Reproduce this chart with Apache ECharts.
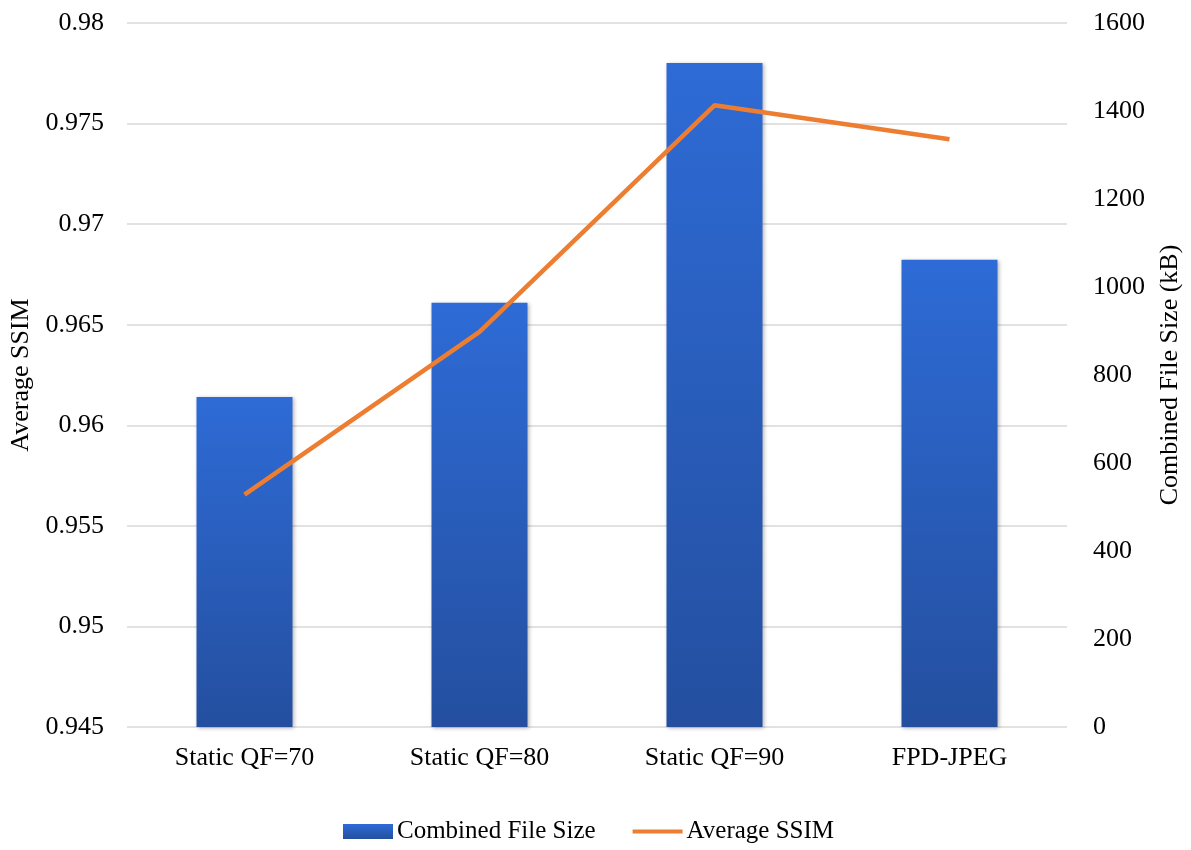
<!DOCTYPE html>
<html>
<head>
<meta charset="utf-8">
<script src="https://cdn.jsdelivr.net/npm/echarts@6/dist/echarts.min.js"></script>
<style>
html,body{margin:0;padding:0;background:#fff;}
#main{width:1191px;height:850px;}
</style>
</head>
<body>
<div id="main"></div>
<script>
const categories = ['Static QF=70', 'Static QF=80', 'Static QF=90', 'FPD-JPEG'];
const fileSize = [750, 964, 1509, 1062];
const avgSSIM = [0.95655, 0.96464, 0.97591, 0.97422];
const leftTicks = [0.945, 0.98, 0.005];
const rightTicks = [0, 1600, 200];

const font = 'Liberation Serif';
const chart = echarts.init(document.getElementById('main'));
chart.setOption({
  animation: false,
  textStyle: { fontFamily: font },
  grid: { left: 126, right: 122, top: 23, bottom: 123 },
  legend: {
    bottom: 1,
    left: 338,
    itemGap: 37,
    itemWidth: 50,
    itemHeight: 15,
    textStyle: { fontFamily: font, fontSize: 25, color: '#000', padding: [0, 0, 0, -1] },
    data: [
      { name: 'Combined File Size', icon: 'rect' },
      { name: 'Average SSIM', icon: 'path://M0,0 L50,0 L50,4 L0,4 Z', itemStyle: { color: '#ed7d31' } }
    ]
  },
  xAxis: {
    type: 'category',
    data: categories,
    axisLine: { show: false },
    axisTick: { show: false },
    axisLabel: { fontFamily: font, fontSize: 26, color: '#000', margin: 18 }
  },
  yAxis: [
    {
      type: 'value',
      min: leftTicks[0], max: leftTicks[1], interval: leftTicks[2],
      name: 'Average SSIM',
      nameLocation: 'middle',
      nameGap: 93,
      nameTextStyle: { fontFamily: font, fontSize: 26, color: '#000' },
      axisLine: { show: false },
      axisTick: { show: false },
      axisLabel: { fontFamily: font, fontSize: 26, color: '#000', margin: 23,
        formatter: v => String(parseFloat(v.toFixed(3))) },
      splitLine: { lineStyle: { color: '#d9d9d9', width: 1.5 } }
    },
    {
      type: 'value',
      min: rightTicks[0], max: rightTicks[1], interval: rightTicks[2],
      name: 'Combined File Size (kB)',
      nameLocation: 'middle',
      nameGap: 90,
      nameTextStyle: { fontFamily: font, fontSize: 26, color: '#000' },
      axisLine: { show: false },
      axisTick: { show: false },
      axisLabel: { fontFamily: font, fontSize: 26, color: '#000', margin: 26,
        formatter: v => String(v) },
      splitLine: { show: false }
    }
  ],
  series: [
    {
      name: 'Combined File Size',
      type: 'bar',
      yAxisIndex: 1,
      data: fileSize,
      barWidth: 96,
      itemStyle: {
        color: new echarts.graphic.LinearGradient(0, 0, 0, 1, [
          { offset: 0, color: '#2e6bd6' },
          { offset: 1, color: '#244f9f' }
        ]),
        shadowColor: 'rgba(0,0,0,0.3)',
        shadowBlur: 4,
        shadowOffsetX: 1,
        shadowOffsetY: 1
      }
    },
    {
      name: 'Average SSIM',
      type: 'line',
      yAxisIndex: 0,
      data: avgSSIM,
      symbol: 'none',
      lineStyle: { color: '#ed7d31', width: 4.5 },
      itemStyle: { color: '#ed7d31' },
      z: 5
    }
  ]
});
</script>
</body>
</html>
